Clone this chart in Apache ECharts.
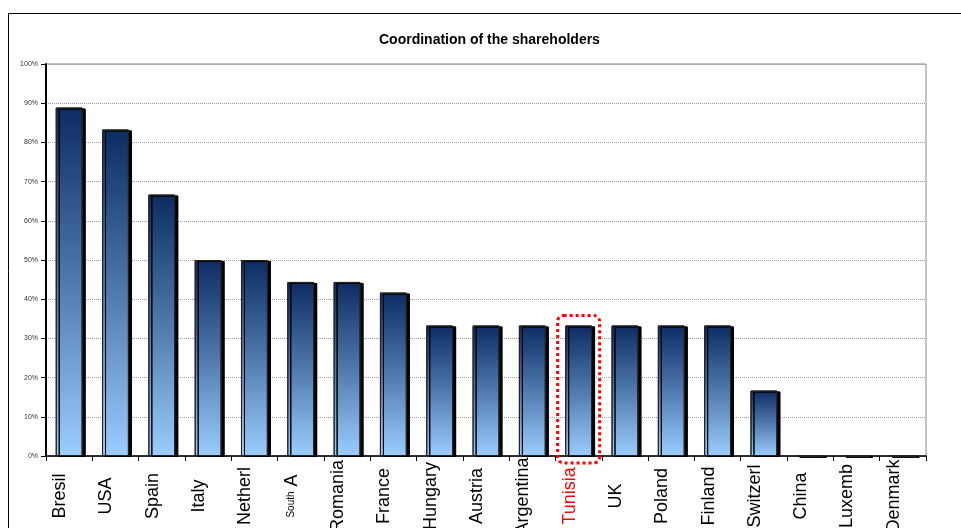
<!DOCTYPE html>
<html>
<head>
<meta charset="utf-8">
<script src="https://cdn.jsdelivr.net/npm/echarts@6/dist/echarts.min.js"></script>
<style>
  html, body { margin: 0; padding: 0; background: #fff; }
  #main { width: 961px; height: 528px; }
</style>
</head>
<body>
<div id="main"></div>
<script>
var myChart = echarts.init(document.getElementById('main'));

// categories and shares (fraction of respondents)
var countries = ['Bresil', 'USA', 'Spain', 'Italy', 'Netherl', 'South A', 'Romania', 'France', 'Hungary',
  'Austria', 'Argentina', 'Tunisia', 'UK', 'Poland', 'Finland', 'Switzerl', 'China', 'Luxemb', 'Denmark'];
var shares = [0.889, 0.833, 0.667, 0.5, 0.5, 0.444, 0.444, 0.417, 0.333,
  0.333, 0.333, 0.333, 0.333, 0.333, 0.333, 0.167, 0, 0, 0];
var highlight = 'Tunisia';

var barGradient = new echarts.graphic.LinearGradient(0, 0, 0, 1, [
  { offset: 0, color: '#0b2c63' },
  { offset: 0.5, color: '#5079ad' },
  { offset: 1, color: '#9bcdff' }
]);

var option = {
  animation: false,
  title: {
    text: 'Coordination of the shareholders',
    left: 374,
    top: 28,
    textStyle: { fontFamily: 'Liberation Sans, Arial', fontWeight: 'bold', fontSize: 14, color: '#000' }
  },
  grid: {
    left: 46, right: 35, top: 64, bottom: 72,
    outerBoundsMode: 'none', containLabel: false,
    show: true, borderColor: '#888', borderWidth: 1
  },
  xAxis: {
    type: 'category',
    data: countries,
    axisLine: { lineStyle: { color: '#000', width: 1.5 } },
    axisTick: { show: true, length: 5, lineStyle: { color: '#000' } },
    axisLabel: {
      rotate: 90,
      interval: 0,
      align: 'center',
      margin: 40,
      fontFamily: 'Liberation Sans, Arial',
      fontSize: 18,
      color: '#000',
      padding: [0, 0, 18, 0],
      formatter: function (v) {
        if (v === 'South A') return '{s|South} A';
        if (v === highlight) return '{r|' + v + '}';
        return v;
      },
      rich: {
        s: { fontSize: 10, fontFamily: 'Liberation Sans, Arial', color: '#000' },
        r: { fontSize: 18, fontFamily: 'Liberation Sans, Arial', color: '#ff0000' }
      }
    }
  },
  yAxis: {
    type: 'value',
    min: 0,
    max: 1,
    interval: 0.1,
    axisLine: { show: true, lineStyle: { color: '#000', width: 2 } },
    axisTick: { show: true, length: 5, lineStyle: { color: '#000' } },
    axisLabel: {
      fontSize: 7,
      color: '#333',
      margin: 8,
      fontFamily: 'Liberation Sans, Arial',
      formatter: function (v) { return Math.round(v * 100) + '%'; }
    },
    splitLine: { lineStyle: { color: '#999', type: 'dotted', width: 1 } }
  },
  series: [{
    type: 'bar',
    data: shares,
    barCategoryGap: '42%',
    itemStyle: {
      color: barGradient,
      borderColor: '#222',
      borderWidth: 1,
      shadowColor: '#000',
      shadowOffsetX: 3,
      shadowOffsetY: 1,
      shadowBlur: 0
    }
  }]
};

myChart.setOption(option);

// frame and highlight box derived from the axes
var hlIndex = countries.indexOf(highlight);
var hlTop = myChart.convertToPixel({ seriesIndex: 0 }, [hlIndex, shares[hlIndex]]);
var hlBase = myChart.convertToPixel({ seriesIndex: 0 }, [hlIndex, 0]);
myChart.setOption({
  graphic: [
    {
      type: 'rect',
      shape: { x: 8.5, y: 13.5, width: 1000, height: 600 },
      style: { fill: 'none', stroke: '#000', lineWidth: 1 },
      silent: true
    },
    {
      type: 'rect',
      shape: { x: hlTop[0] - 21, y: hlTop[1] - 10, width: 42, height: hlBase[1] - hlTop[1] + 17, r: 6 },
      style: { fill: 'none', stroke: '#ff0000', lineWidth: 3, lineDash: [3, 3] },
      z: 100,
      silent: true
    }
  ]
});
</script>
</body>
</html>
